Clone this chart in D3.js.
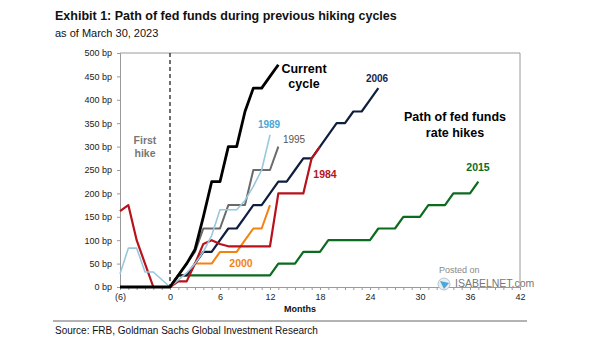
<!DOCTYPE html>
<html>
<head>
<meta charset="utf-8">
<script src="https://d3js.org/d3.v7.min.js"></script>
<style>
  body { margin: 0; background: #fff; }
  svg { font-family: Arial, "Liberation Sans", sans-serif; display: block; }
</style>
</head>
<body>
<div id="chart"></div>
<script>

// months since first hike, bp change
var curMonths = d3.range(-6, 14);
var curVals = [0, 0, 0, 0, 0, 0, 0, 25, 50, 80, 150, 225, 225, 300, 300, 375, 425, 425, 450, 475];

var m1984 = d3.range(-6, 19);
var v1984 = [162, 175, 100, 50, 0, 0, 0, 12, 12, 50, 92, 100, 92, 87, 87, 87, 87, 87, 87, 200, 200, 200, 200, 275, 300];

var m1989 = d3.range(-6, 13);
var v1989 = [28, 83, 83, 32, 32, 16, 0, 15, 30, 50, 75, 110, 165, 165, 165, 185, 215, 250, 325];

var m1995 = d3.range(0, 14);
var v1995 = [0, 25, 50, 75, 125, 125, 125, 175, 175, 175, 250, 250, 250, 300];

var m2000 = d3.range(0, 13);
var v2000 = [0, 25, 25, 50, 50, 50, 75, 75, 75, 100, 125, 125, 175];

var m2006 = d3.range(0, 26);
var v2006 = [0, 25, 25, 50, 75, 75, 100, 125, 125, 150, 175, 175, 200, 225, 225, 250, 275, 275, 300, 325, 350, 350, 375, 375, 400, 425];

var m2015 = d3.range(0, 38);
var v2015 = [0, 25, 25, 25, 25, 25, 25, 25, 25, 25, 25, 25, 25, 50, 50, 50, 75, 75, 75, 100, 100, 100, 100, 100, 100,
             125, 125, 125, 150, 150, 150, 175, 175, 175, 200, 200, 200, 225];

var xTicks = [-6, 0, 6, 12, 18, 24, 30, 36, 42];
var yTicks = [0, 50, 100, 150, 200, 250, 300, 350, 400, 450, 500];

var W = 605, H = 341;
var svg = d3.select("#chart").append("svg")
  .attr("width", W)
  .attr("height", H);

var x = d3.scaleLinear().domain([-6, 42]).range([120, 520]);
var y = d3.scaleLinear().domain([0, 500]).range([287, 53]);

// titles
svg.append("text").attr("x", 55).attr("y", 20)
  .attr("font-size", "12.5px").attr("font-weight", "bold").attr("fill", "#111")
  .text("Exhibit 1: Path of fed funds during previous hiking cycles");
svg.append("text").attr("x", 55).attr("y", 37)
  .attr("font-size", "11px").attr("fill", "#111")
  .text("as of March 30, 2023");

// frame
svg.append("line").attr("x1", 120).attr("x2", 520).attr("y1", 53).attr("y2", 53).attr("stroke", "#9a9a9a");
svg.append("line").attr("x1", 520).attr("x2", 520).attr("y1", 53).attr("y2", 287).attr("stroke", "#9a9a9a");

// axes
var yAxis = d3.axisLeft(y).tickValues(yTicks).tickSize(3).tickPadding(5)
  .tickFormat(function(d) { return d + " bp"; });
var gy = svg.append("g").attr("transform", "translate(120,0)").call(yAxis);

var xAxis = d3.axisBottom(x).tickValues(d3.range(-6, 43)).tickSize(3).tickPadding(4)
  .tickFormat(function(d) {
    if (xTicks.indexOf(d) < 0) return "";
    return d < 0 ? "(" + (-d) + ")" : d;
  });
var gx = svg.append("g").attr("transform", "translate(0,287)").call(xAxis);

svg.selectAll(".domain").attr("stroke", "#9a9a9a");
svg.selectAll(".tick line").attr("stroke", "#9a9a9a");
svg.selectAll(".tick text").attr("font-size", "9px").attr("fill", "#222")
  .attr("font-family", "Arial, 'Liberation Sans', sans-serif");

// first hike marker
svg.append("line")
  .attr("x1", x(0)).attr("x2", x(0))
  .attr("y1", 53).attr("y2", 287)
  .attr("stroke", "#222").attr("stroke-width", 1.3)
  .attr("stroke-dasharray", "4,3");

var line = d3.line()
  .x(function(d) { return x(d[0]); })
  .y(function(d) { return y(d[1]); });

var series = [
  { m: m2015, v: v2015, color: "#0b6b1f", w: 2.2 },
  { m: m2000, v: v2000, color: "#f5820f", w: 2 },
  { m: m2006, v: v2006, color: "#0e1e3c", w: 2.2 },
  { m: m1984, v: v1984, color: "#b8121c", w: 2.2 },
  { m: m1995, v: v1995, color: "#6a6a6a", w: 2 },
  { m: m1989, v: v1989, color: "#98c8de", w: 1.6 },
  { m: curMonths, v: curVals, color: "#000000", w: 2.8 }
];

svg.selectAll("path.series")
  .data(series)
  .enter().append("path")
  .attr("class", "series")
  .attr("fill", "none")
  .attr("stroke", function(d) { return d.color; })
  .attr("stroke-width", function(d) { return d.w; })
  .attr("stroke-linejoin", "round")
  .attr("d", function(d) { return line(d.m.map(function(mm, i) { return [mm, d.v[i]]; })); });

// labels
var labels = [
  { t: "Current", x: 304, y: 73, c: "#000", s: 12.5, b: true },
  { t: "cycle", x: 304, y: 88, c: "#000", s: 12.5, b: true },
  { t: "2006", x: 377, y: 82, c: "#15254a", s: 10, b: true },
  { t: "Path of fed funds", x: 455, y: 121, c: "#000", s: 12.5, b: true },
  { t: "rate hikes", x: 455, y: 137, c: "#000", s: 12.5, b: true },
  { t: "1989", x: 269, y: 128, c: "#4da7d4", s: 10, b: true },
  { t: "1995", x: 294, y: 143, c: "#555", s: 10, b: false },
  { t: "1984", x: 325, y: 178, c: "#b8121c", s: 10.5, b: true },
  { t: "2000", x: 241, y: 267, c: "#f5820f", s: 10.5, b: true },
  { t: "2015", x: 478, y: 171, c: "#0b6b1f", s: 10.5, b: true },
  { t: "First", x: 145, y: 144, c: "#777", s: 10.5, b: true },
  { t: "hike", x: 145, y: 157, c: "#777", s: 10.5, b: true }
];
svg.selectAll("text.lab")
  .data(labels)
  .enter().append("text")
  .attr("class", "lab")
  .attr("x", function(d) { return d.x; })
  .attr("y", function(d) { return d.y; })
  .attr("text-anchor", "middle")
  .attr("font-size", function(d) { return d.s + "px"; })
  .attr("font-weight", function(d) { return d.b ? "bold" : "normal"; })
  .attr("fill", function(d) { return d.c; })
  .text(function(d) { return d.t; });

// watermark
svg.append("text").attr("x", 439).attr("y", 273).attr("font-size", "9px").attr("fill", "#888").text("Posted on");
svg.append("circle").attr("cx", 444).attr("cy", 284).attr("r", 6).attr("fill", "#e6eef3").attr("stroke", "#b8c6d0");
svg.append("path").attr("d", "M440,281 L449,283 L444,289 Z").attr("fill", "#4aa6d8");
svg.append("text").attr("x", 455).attr("y", 287).attr("font-size", "10.5px").attr("fill", "#777").text("ISABELNET.com");

// footer
svg.append("text").attr("x", 300).attr("y", 312).attr("text-anchor", "middle")
  .attr("font-size", "9px").attr("font-weight", "bold").attr("fill", "#111").text("Months");
svg.append("line").attr("x1", 53).attr("x2", 527).attr("y1", 321).attr("y2", 321)
  .attr("stroke", "#666").attr("stroke-width", 1);
svg.append("text").attr("x", 55).attr("y", 334)
  .attr("font-size", "10px").attr("fill", "#111")
  .text("Source: FRB, Goldman Sachs Global Investment Research");

</script>
</body>
</html>
